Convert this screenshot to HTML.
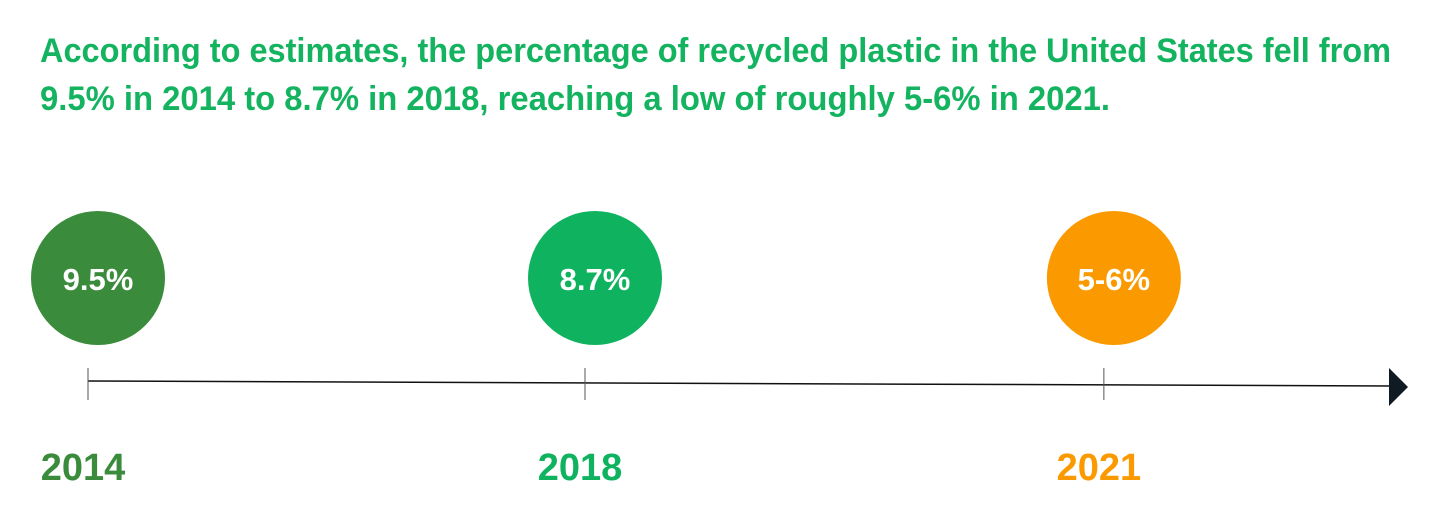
<!DOCTYPE html>
<html><head><meta charset="utf-8">
<style>
html,body{margin:0;padding:0;background:#fff;}
svg{display:block;font-family:"Liberation Sans",Arial,sans-serif;font-weight:bold;}
</style></head>
<body>
<svg id="chart" width="1440" height="522" viewBox="0 0 1440 522">
  <text x="40" y="62" font-size="34" fill="#13b35f" textLength="1351" lengthAdjust="spacingAndGlyphs">According to estimates, the percentage of recycled plastic in the United States fell from</text>
  <text x="40" y="110" font-size="34" fill="#13b35f" textLength="1070" lengthAdjust="spacingAndGlyphs">9.5% in 2014 to 8.7% in 2018, reaching a low of roughly 5-6% in 2021.</text>
  <line x1="88" y1="381" x2="1392" y2="386" stroke="#111" stroke-width="1.5"/>
  <polygon points="1389,368 1408,387 1389,406" fill="#0f1a22"/>
  <g id="marks"></g>
</svg>
<script>
const years = [2014, 2018, 2021];
const valueLabels = ["9.5%", "8.7%", "5-6%"];
const colors = ["#3a8c3c", "#0fb35f", "#fb9a00"];

// axis: year -> x pixel (2014 at 88, 2018 at 585, 2021 ~ 1104)
function xTick(y){ return 88 + (y - 2014) * ((585 - 88) / 4) * ((y > 2018) ? 1.392 : 1) - ((y > 2018) ? (2018 - 2014) * ((585 - 88) / 4) * 0.392 : 0); }
function xCircle(y){ return xTick(y) + 10; }

const g = document.getElementById('marks');
const NS = 'http://www.w3.org/2000/svg';
years.forEach((yr, i) => {
  const tx = xTick(yr), cx = xCircle(yr);
  const tick = document.createElementNS(NS, 'line');
  
  
  tick.setAttribute('x1', tx); tick.setAttribute('x2', tx);
  tick.setAttribute('y1', 368); tick.setAttribute('y2', 400);
  tick.setAttribute('stroke', '#555'); tick.setAttribute('stroke-width', '1');
  g.appendChild(tick);

  const c = document.createElementNS(NS, 'circle');
  
  
  c.setAttribute('cx', cx); c.setAttribute('cy', 278); c.setAttribute('r', 67);
  c.setAttribute('fill', colors[i]);
  g.appendChild(c);

  const t = document.createElementNS(NS, 'text');
  
  
  t.setAttribute('x', cx); t.setAttribute('y', 290);
  t.setAttribute('text-anchor', 'middle'); t.setAttribute('font-size', '31');
  t.setAttribute('fill', '#fff');
  t.textContent = valueLabels[i];
  g.appendChild(t);

  const yl = document.createElementNS(NS, 'text');
  
  
  yl.setAttribute('x', cx - 15); yl.setAttribute('y', 480);
  yl.setAttribute('text-anchor', 'middle'); yl.setAttribute('font-size', '38');
  yl.setAttribute('fill', colors[i]);
  yl.textContent = yr;
  g.appendChild(yl);
});
</script>
</body></html>
